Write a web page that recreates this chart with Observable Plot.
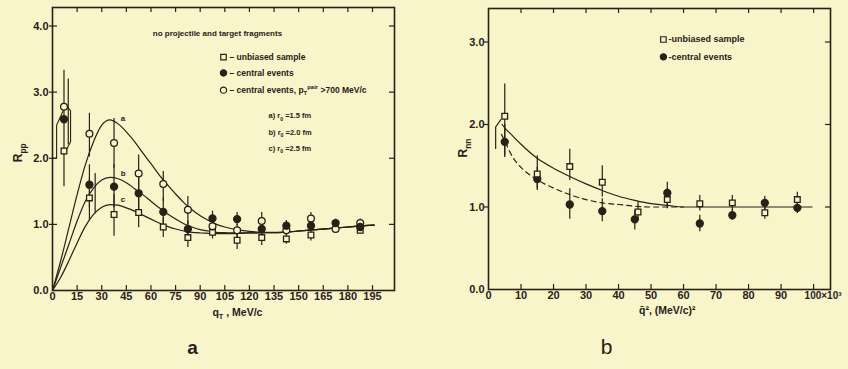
<!DOCTYPE html>
<html><head><meta charset="utf-8">
<script src="https://cdn.jsdelivr.net/npm/d3@7"></script>
<script src="https://cdn.jsdelivr.net/npm/@observablehq/plot@0.6"></script>
<style>
html,body{margin:0;padding:0;background:#f8f5cb;}
#wrap{position:relative;width:848px;height:369px;overflow:hidden;background:#f8f5cb;}
#wrap svg{position:absolute;top:0;}
</style></head><body><div id="wrap"></div>
<script>
// ---------- Panel a data ----------
const xBinsA = [7,22.5,37.5,52.5,67.5,82.5,97.5,112.5,127.5,142.5,157.5,172.5,187.5];
const pairA = [2.78,2.37,2.23,1.77,1.61,1.22,0.97,0.91,1.05,0.91,1.09,0.93,1.02];
const pairLoA = [1.57,2.02,1.85,1.50,1.35,1.00,0.85,0.80,0.95,0.84,1.00,0.87,0.96];
const pairHiA = [3.33,2.68,2.60,2.05,1.80,1.42,1.10,1.00,1.18,0.98,1.18,0.99,1.08];
const centralA = [2.59,1.60,1.57,1.47,1.19,0.93,1.09,1.08,0.93,0.98,0.98,1.02,0.96];
const centralLoA = [null,1.25,1.25,1.20,1.00,0.80,0.98,0.98,0.85,0.90,0.92,0.95,0.90];
const centralHiA = [null,1.90,1.90,1.75,1.40,1.05,1.20,1.18,1.00,1.06,1.04,1.08,1.02];
const unbiasedA = [2.11,1.40,1.15,1.18,0.96,0.80,0.88,0.76,0.80,0.78,0.84,null,0.91];
const unbiasedLoA = [null,1.05,0.82,0.95,0.80,0.65,0.78,0.62,0.68,0.70,0.75,null,0.86];
const unbiasedHiA = [null,1.70,1.45,1.40,1.10,0.95,0.98,0.88,0.90,0.88,0.92,null,0.97];
const extraErrXA = [9.6, 26];
const extraErrLoA = [2.2, 1.16];
const extraErrHiA = [3.2, 1.77];
const bracketLXA = [0, 2.5, 2.5, 6.5];
const bracketLYA = [2.0, 2.0, 2.5, 2.72];
const bracketRXA = [7.5, 11, 11, 7.5];
const bracketRYA = [2.82, 2.72, 2.25, 2.08];
const curveGridA = [0,5,10,15,20,25,30,35,40,45,50,55,60,65,70,75,80,85,90,95,100,105,110,115,120,130,140,150,160,170,180,190,196];
const curveA = [0,0.45,0.95,1.45,1.9,2.25,2.5,2.58,2.52,2.4,2.25,2.08,1.92,1.75,1.6,1.46,1.33,1.22,1.13,1.06,1.0,0.96,0.93,0.91,0.895,0.88,0.88,0.9,0.92,0.94,0.96,0.98,0.99];
const curveB = [0,0.35,0.7,1.05,1.35,1.55,1.67,1.71,1.69,1.63,1.54,1.45,1.35,1.25,1.16,1.08,1.01,0.96,0.92,0.9,0.88,0.875,0.87,0.87,0.87,0.875,0.88,0.9,0.92,0.94,0.96,0.98,0.99];
const curveC = [0,0.2,0.45,0.72,0.97,1.15,1.26,1.30,1.29,1.25,1.2,1.14,1.08,1.02,0.97,0.93,0.9,0.88,0.87,0.865,0.86,0.86,0.86,0.865,0.87,0.875,0.88,0.9,0.92,0.94,0.96,0.98,0.99];
const xTicksA = [0,15,30,45,60,75,90,105,120,135,150,165,180,195];
const yTicksA = [0,1,2,3,4];
const legendTextA = ["– unbiased sample","– central events","– central events, p_{T}^{pair} >700 MeV/c"];
const radiusTextA = ["a) r_{0} =1.5 fm","b) r_{0} =2.0 fm","c) r_{0} =2.5 fm"];
const curveNamesA = ["a","b","c"];

// ---------- Panel b data ----------
const xBinsB = [5,15,25,35,45,55,65,75,85,95];
const unbiasedXB = [5,15,25,35,46,55,65,75,85,95];
const unbiasedB = [2.10,1.40,1.49,1.30,0.94,1.09,1.04,1.05,0.93,1.09];
const unbiasedLoB = [1.62,1.22,1.32,1.12,0.84,0.98,0.95,0.96,0.85,1.00];
const unbiasedHiB = [2.49,1.62,1.70,1.50,1.06,1.22,1.14,1.14,1.02,1.18];
const centralB = [1.79,1.34,1.03,0.95,0.85,1.17,0.80,0.90,1.05,0.99];
const centralLoB = [1.60,1.20,0.85,0.82,0.72,1.00,0.70,0.84,0.96,0.92];
const centralHiB = [2.00,1.48,1.22,1.10,0.96,1.30,0.90,0.97,1.13,1.05];
const solidGridB = [4.2,5,7.5,10,15,20,25,30,35,40,45,50,55,60,70,80,90,99.5];
const solidB = [2.0,1.96,1.86,1.76,1.59,1.47,1.37,1.28,1.20,1.13,1.08,1.04,1.02,1.0,1.0,1.0,1.0,1.0];
const dashedGridB = [4,5,7.5,10,15,20,25,30,35,40,45,50,55,60];
const dashedB = [1.88,1.80,1.60,1.48,1.33,1.23,1.15,1.09,1.05,1.03,1.01,1.0,1.0,1.0];
const hookXB = [2.2,2.2,3.8];
const hookYB = [1.71,1.97,2.06];
const xTicksB = [0,10,20,30,40,50,60,70,80,90,100];
const xTickLabelsB = ["0","10","20","30","40","50","60","70","80","90","100×10³"];
const yTicksB = [0,1,2,3];
const legendTextB = ["-unbiased sample","-central events"];

// ---------- styling ----------
const ink = "#2a2017", paper = "#f8f5cb";
const font = "'Liberation Sans', Arial, sans-serif";
const zip = (xs, ys) => xs.map((x, i) => ({x, y: ys[i]})).filter(d => d.y != null);
const zipErr = (xs, lo, hi) => xs.map((x, i) => ({x, lo: lo[i], hi: hi[i]})).filter(d => d.lo != null && d.hi != null);

function richText(svg) {
  const ns = "http://www.w3.org/2000/svg";
  d3.select(svg).selectAll("text").each(function() {
    const el = this, s = el.textContent;
    if (!/[_^]\{/.test(s)) return;
    const fs = parseFloat(getComputedStyle(el).fontSize) || 10;
    while (el.firstChild) el.removeChild(el.firstChild);
    const re = /([_^])\{([^}]*)\}/g; let last = 0, m, cur = 0;
    const add = (t, shift, small) => {
      const ts = document.createElementNS(ns, "tspan");
      ts.textContent = t;
      const dy = shift - cur;
      if (dy) ts.setAttribute("dy", dy);
      if (small) ts.setAttribute("font-size", fs * 0.7);
      el.appendChild(ts); cur = shift;
    };
    while ((m = re.exec(s))) {
      if (m.index > last) add(s.slice(last, m.index), 0, false);
      add(m[2], m[1] === "_" ? fs * 0.3 : -fs * 0.4, true);
      last = re.lastIndex;
    }
    if (last < s.length) add(s.slice(last), 0, false);
  });
}

const wrap = document.getElementById("wrap");

// ---------- Panel a ----------
{
  const W = 420, H = 369, mt = 7, ml = 52, mr = 26, mb = 79;
  const fw = W - ml - mr, fh = H - mt - mb;
  const pts = (ys) => zip(xBinsA, ys);
  const chart = Plot.plot({
    width: W, height: H, marginTop: mt, marginLeft: ml, marginRight: mr, marginBottom: mb,
    style: {background: "transparent", fontFamily: font, color: ink},
    x: {domain: [0, 208.4], axis: null},
    y: {domain: [0, 4.28], axis: null},
    marks: [
      Plot.frame({stroke: ink, strokeWidth: 1.6}),
      Plot.ruleX(xTicksA.slice(1), {stroke: ink, strokeWidth: 1.2, insetTop: fh - 5}),
      Plot.ruleX(xTicksA.slice(1), {stroke: ink, strokeWidth: 1.2, insetBottom: fh - 5}),
      Plot.ruleY(yTicksA.slice(1), {stroke: ink, strokeWidth: 1.2, insetLeft: -3, insetRight: fw - 5}),
      Plot.ruleY(yTicksA.slice(1), {stroke: ink, strokeWidth: 1.2, insetLeft: fw - 5}),
      Plot.text(xTicksA, {x: d => d, frameAnchor: "bottom", dy: 9, text: d => String(d), fontSize: 11, fontWeight: "bold", fill: ink}),
      Plot.text(yTicksA, {y: d => d, frameAnchor: "left", dx: -4, textAnchor: "end", text: d => d.toFixed(1), fontSize: 11, fontWeight: "bold", fill: ink}),
      Plot.text(["q_{T} , MeV/c"], {x: 112.7, frameAnchor: "bottom", dy: 25, fontSize: 10.5, fontWeight: "bold", fill: ink}),
      Plot.text(["R_{pp}"], {y: 1.94, frameAnchor: "left", dx: -34, rotate: -90, fontSize: 12, fontWeight: "bold", fill: ink}),
      Plot.text(["a"], {x: 85.3, frameAnchor: "bottom", dy: 63, fontSize: 19, fontWeight: "bold", fill: ink}),
      // theory curves
      Plot.line(zip(curveGridA, curveA), {x: "x", y: "y", stroke: ink, strokeWidth: 1.2, curve: "monotone-x"}),
      Plot.line(zip(curveGridA, curveB), {x: "x", y: "y", stroke: ink, strokeWidth: 1.2, curve: "monotone-x"}),
      Plot.line(zip(curveGridA, curveC), {x: "x", y: "y", stroke: ink, strokeWidth: 1.2, curve: "monotone-x"}),
      Plot.text(curveNamesA, {x: 43, y: (d, i) => [2.60, 1.77, 1.37][i], text: d => d, fontSize: 8, fontWeight: "bold", fill: ink}),
      // error bars
      Plot.ruleX(zipErr(xBinsA, pairLoA, pairHiA), {x: "x", y1: "lo", y2: "hi", stroke: ink, strokeWidth: 1.2}),
      Plot.ruleX(zipErr(xBinsA, centralLoA, centralHiA), {x: "x", y1: "lo", y2: "hi", stroke: ink, strokeWidth: 1.2}),
      Plot.ruleX(zipErr(xBinsA, unbiasedLoA, unbiasedHiA), {x: "x", y1: "lo", y2: "hi", stroke: ink, strokeWidth: 1.2}),
      Plot.ruleX(zipErr(extraErrXA, extraErrLoA, extraErrHiA), {x: "x", y1: "lo", y2: "hi", stroke: ink, strokeWidth: 1.2}),
      Plot.line(zip(bracketLXA, bracketLYA), {x: "x", y: "y", stroke: ink, strokeWidth: 1.1}),
      Plot.line(zip(bracketRXA, bracketRYA), {x: "x", y: "y", stroke: ink, strokeWidth: 1.1}),
      // points
      Plot.dot(pts(unbiasedA), {x: "x", y: "y", symbol: "square", r: 3.2, fill: paper, stroke: ink, strokeWidth: 1.3}),
      Plot.dot(pts(pairA), {x: "x", y: "y", r: 3.4, fill: paper, stroke: ink, strokeWidth: 1.3}),
      Plot.dot(pts(centralA), {x: "x", y: "y", r: 3.4, fill: ink, stroke: ink}),
      // annotations
      Plot.text(["no projectile and target fragments"], {x: 100.5, y: 3.89, fontSize: 8, fontWeight: "bold", fill: ink}),
      Plot.dot(legendTextA, {x: 104.2, y: (d, i) => [3.53, 3.29, 3.03][i], symbol: (d, i) => ["square", "circle", "circle"][i], r: 3.1, fill: (d, i) => [paper, ink, paper][i], stroke: ink, strokeWidth: 1.2}),
      Plot.text(legendTextA, {x: 107.8, y: (d, i) => [3.53, 3.29, 3.03][i], textAnchor: "start", fontSize: 8.5, fontWeight: "bold", fill: ink}),
      Plot.text(radiusTextA, {x: 131.6, y: (d, i) => [2.64, 2.39, 2.15][i], textAnchor: "start", fontSize: 7.5, fontWeight: "bold", fill: ink})
    ]
  });
  chart.style.left = "0px";
  wrap.appendChild(chart);
  richText(chart);
}

// ---------- Panel b ----------
{
  const W = 428, H = 369, mt = 8, ml = 68, mr = 18, mb = 80;
  const fw = W - ml - mr, fh = H - mt - mb;
  const chart = Plot.plot({
    width: W, height: H, marginTop: mt, marginLeft: ml, marginRight: mr, marginBottom: mb,
    style: {background: "transparent", fontFamily: font, color: ink},
    x: {domain: [0, 105.2], axis: null},
    y: {domain: [0, 3.406], axis: null},
    marks: [
      Plot.frame({stroke: ink, strokeWidth: 1.6}),
      Plot.ruleX(xTicksB.slice(1), {stroke: ink, strokeWidth: 1.2, insetTop: fh - 5}),
      Plot.ruleX(xTicksB.slice(1), {stroke: ink, strokeWidth: 1.2, insetBottom: fh - 5}),
      Plot.ruleY(yTicksB.slice(1), {stroke: ink, strokeWidth: 1.2, insetLeft: -4, insetRight: fw}),
      Plot.ruleY(yTicksB.slice(1), {stroke: ink, strokeWidth: 1.2, insetLeft: fw - 5}),
      Plot.text(xTicksB.slice(0, -1), {x: d => d, frameAnchor: "bottom", dy: 9, text: (d, i) => xTickLabelsB[i], fontSize: 11, fontWeight: "bold", fill: ink}),
      Plot.text(xTicksB.slice(-1), {x: d => d, frameAnchor: "bottom", dy: 9, dx: -9, textAnchor: "start", text: d => xTickLabelsB[xTickLabelsB.length - 1], fontSize: 10, fontWeight: "bold", fill: ink}),
      Plot.text(yTicksB, {y: d => d, frameAnchor: "left", dx: -4, textAnchor: "end", text: d => d.toFixed(1), fontSize: 11, fontWeight: "bold", fill: ink}),
      Plot.text(["q̄², (MeV/c)²"], {x: 55, frameAnchor: "bottom", dy: 24, fontSize: 10.5, fontWeight: "bold", fill: ink}),
      Plot.text(["R_{nn}"], {y: 1.6, frameAnchor: "left", dx: -25, rotate: -90, fontSize: 12, fontWeight: "bold", fill: ink}),
      Plot.text(["b"], {x: 36.3, frameAnchor: "bottom", dy: 64, fontSize: 21, fill: ink}),
      // curves
      Plot.line(zip(solidGridB, solidB), {x: "x", y: "y", stroke: ink, strokeWidth: 1.2, curve: "monotone-x"}),
      Plot.line(zip(dashedGridB, dashedB), {x: "x", y: "y", stroke: ink, strokeWidth: 1.2, strokeDasharray: "5,4", curve: "monotone-x"}),
      Plot.line(zip(hookXB, hookYB), {x: "x", y: "y", stroke: ink, strokeWidth: 1.2}),
      // error bars
      Plot.ruleX(zipErr(unbiasedXB, unbiasedLoB, unbiasedHiB), {x: "x", y1: "lo", y2: "hi", stroke: ink, strokeWidth: 1.2}),
      Plot.ruleX(zipErr(xBinsB, centralLoB, centralHiB), {x: "x", y1: "lo", y2: "hi", stroke: ink, strokeWidth: 1.2}),
      // points
      Plot.dot(zip(xBinsB, centralB), {x: "x", y: "y", r: 3.4, fill: ink, stroke: ink}),
      Plot.dot(zip(unbiasedXB, unbiasedB), {x: "x", y: "y", symbol: "square", r: 3.2, fill: paper, stroke: ink, strokeWidth: 1.3}),
      // legend
      Plot.dot(legendTextB, {x: 53.8, y: (d, i) => [3.03, 2.82][i], symbol: (d, i) => ["square", "circle"][i], r: 3.1, fill: (d, i) => [paper, ink][i], stroke: ink, strokeWidth: 1.2}),
      Plot.text(legendTextB, {x: 55.4, y: (d, i) => [3.03, 2.82][i], textAnchor: "start", fontSize: 9, fontWeight: "bold", fill: ink})
    ]
  });
  chart.style.left = "420px";
  wrap.appendChild(chart);
  richText(chart);
}
</script></body></html>
